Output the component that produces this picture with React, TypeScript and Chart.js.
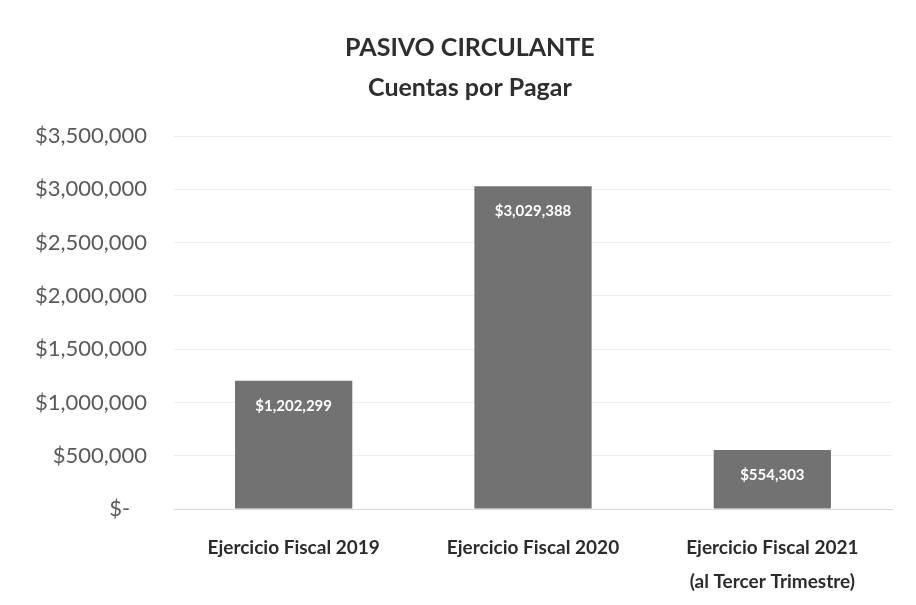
import React, { useEffect, useRef } from "react";
import { Chart, registerables } from "chart.js";

Chart.register(...registerables);

const titleLines = ["PASIVO CIRCULANTE", "Cuentas por Pagar"];
const categories: (string | string[])[] = [
  "Ejercicio Fiscal 2019",
  "Ejercicio Fiscal 2020",
  ["Ejercicio Fiscal 2021", "(al Tercer Trimestre)"],
];
const values = [1202299, 3029388, 554303];
const yMax = 3500000;
const yStep = 500000;

const fmt = (v: number) => "$" + Math.round(v).toLocaleString("en-US");

const FONT = "Lato, 'Open Sans', sans-serif";

const overlayPlugin = {
  id: "overlay",
  afterDatasetsDraw(chart: any) {
    const ctx = chart.ctx;
    const meta = chart.getDatasetMeta(0);
    ctx.save();
    ctx.fillStyle = "#ffffff";
    ctx.font = `bold 15px ${FONT}`;
    ctx.textAlign = "center";
    ctx.textBaseline = "middle";
    meta.data.forEach((bar: any, i: number) => {
      ctx.fillText(fmt(values[i]), bar.x, bar.y + 25);
    });
    ctx.restore();
  },
  afterDraw(chart: any) {
    const ctx = chart.ctx;
    ctx.save();
    ctx.fillStyle = "#2e2e2e";
    ctx.font = `bold 25px ${FONT}`;
    ctx.textAlign = "center";
    ctx.textBaseline = "middle";
    const cx = chart.width * 0.513;
    ctx.fillText(titleLines[0], cx, 48);
    ctx.fillText(titleLines[1], cx, 88);
    ctx.restore();
  },
};

export default function App() {
  const ref = useRef<HTMLCanvasElement>(null);
  useEffect(() => {
    if (!ref.current) return;
    const chart = new Chart(ref.current, {
      type: "bar",
      data: {
        labels: categories,
        datasets: [
          {
            data: values,
            backgroundColor: "#727272",
            borderWidth: 0,
            categoryPercentage: 1,
            barPercentage: 0.49,
          },
        ],
      },
      options: {
        animation: false,
        responsive: false,
        maintainAspectRatio: false,
        layout: { padding: { top: 136, right: 24, left: 0, bottom: 0 } },
        plugins: {
          legend: { display: false },
          title: { display: false },
          tooltip: { enabled: false },
        },
        scales: {
          x: {
            grid: { display: false, drawTicks: false },
            border: { display: true, color: "#d9d9d9" },
            ticks: {
              color: "#2b2b2b",
              font: { family: FONT, size: 19, weight: "bold", lineHeight: 1.8 },
              padding: 22,
              maxRotation: 0,
              autoSkip: false,
            },
            afterFit(scale: any) {
              scale.height = 96;
            },
          },
          y: {
            min: 0,
            max: yMax,
            grid: { color: "#eeeeee", drawTicks: false },
            border: { display: false },
            ticks: {
              stepSize: yStep,
              color: "#5a5a5a",
              font: { family: FONT, size: 22 },
              padding: 27,
              callback: (v: any) => (Number(v) === 0 ? "$-   " : fmt(Number(v))),
            },
            afterFit(scale: any) {
              scale.width = 174;
            },
          },
        },
      },
      plugins: [overlayPlugin],
    });
    return () => chart.destroy();
  }, []);
  return (
    <div style={{ position: "absolute", left: 0, top: 0, width: 916, height: 605, background: "#fff" }}>
      <canvas ref={ref} width={916} height={605} style={{ width: 916, height: 605 }} />
    </div>
  );
}
